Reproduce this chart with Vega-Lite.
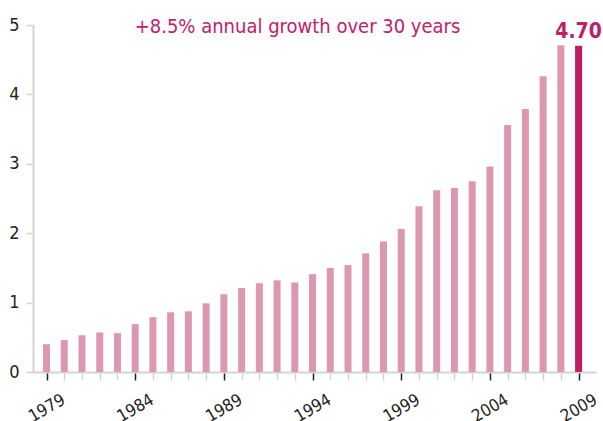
{
  "$schema": "https://vega.github.io/schema/vega-lite/v6.json",
  "width": 563,
  "height": 347,
  "autosize": {"type": "none"},
  "padding": {"left": 33, "top": 25, "right": 7, "bottom": 49},
  "background": "white",
  "config": {"view": {"stroke": null}, "font": "DejaVu Sans Condensed, Liberation Sans"},
  "title": {
    "text": "+8.5% annual growth over 30 years",
    "anchor": "middle",
    "dx": -17,
    "dy": 29,
    "offset": -8,
    "baseline": "alphabetic",
    "fontSize": 20,
    "fontWeight": "normal",
    "color": "#c2206a",
    "font": "DejaVu Sans Condensed, Liberation Sans"
  },
  "data": {
    "values": [
      {"year": 1979, "value": 0.40},
      {"year": 1980, "value": 0.46},
      {"year": 1981, "value": 0.53},
      {"year": 1982, "value": 0.57},
      {"year": 1983, "value": 0.56},
      {"year": 1984, "value": 0.69},
      {"year": 1985, "value": 0.79},
      {"year": 1986, "value": 0.86},
      {"year": 1987, "value": 0.875},
      {"year": 1988, "value": 0.99},
      {"year": 1989, "value": 1.12},
      {"year": 1990, "value": 1.21},
      {"year": 1991, "value": 1.28},
      {"year": 1992, "value": 1.32},
      {"year": 1993, "value": 1.29},
      {"year": 1994, "value": 1.41},
      {"year": 1995, "value": 1.50},
      {"year": 1996, "value": 1.54},
      {"year": 1997, "value": 1.71},
      {"year": 1998, "value": 1.88},
      {"year": 1999, "value": 2.06},
      {"year": 2000, "value": 2.39},
      {"year": 2001, "value": 2.62},
      {"year": 2002, "value": 2.65},
      {"year": 2003, "value": 2.75},
      {"year": 2004, "value": 2.96},
      {"year": 2005, "value": 3.56},
      {"year": 2006, "value": 3.79},
      {"year": 2007, "value": 4.26},
      {"year": 2008, "value": 4.71},
      {"year": 2009, "value": 4.70}
    ]
  },
  "layer": [
    {
      "mark": {"type": "bar", "size": 7},
      "encoding": {
        "x": {
          "field": "year",
          "type": "quantitative",
          "scale": {"domain": [1978.52, 2009.7], "nice": false, "zero": false},
          "axis": {
            "title": null,
            "values": [1979,1980,1981,1982,1983,1984,1985,1986,1987,1988,1989,1990,1991,1992,1993,1994,1995,1996,1997,1998,1999,2000,2001,2002,2003,2004,2005,2006,2007,2008,2009],
            "tickCount": 100,
            "labelExpr": "datum.value % 5 == 4 ? datum.label : ''",
            "format": "d",
            "grid": false,
            "domainColor": "#d4d4d4",
            "domainWidth": 2,
            "tickSize": 8,
            "tickWidth": 1.5,
            "tickColor": {"condition": {"test": "datum.value % 5 == 4", "value": "#222222"}, "value": "#d4d4d4"},
            "labelAngle": -30,
            "labelAlign": "center",
            "labelBaseline": "middle",
            "labelFontSize": 17,
            "labelColor": "#222222",
            "labelPadding": 28,
            "labelOverlap": false,
            "labelFlush": false,
            "labelBound": false
          }
        },
        "y": {
          "field": "value",
          "type": "quantitative",
          "scale": {"domain": [0, 5], "nice": false},
          "axis": {
            "title": null,
            "values": [0, 1, 2, 3, 4, 5],
            "format": "d",
            "grid": false,
            "domainColor": "#d4d4d4",
            "domainWidth": 2,
            "tickColor": "#d4d4d4",
            "tickSize": 7,
            "tickWidth": 1.5,
            "labelFontSize": 18,
            "labelColor": "#222222",
            "labelPadding": 7
          }
        },
        "color": {
          "condition": {"test": "datum.year == 2009", "value": "#c01f66"},
          "value": "#dd98b0"
        }
      }
    },
    {
      "transform": [{"filter": "datum.year == 2009"}],
      "mark": {"type": "text", "baseline": "alphabetic", "dy": -8, "fontSize": 21, "fontWeight": "bold", "color": "#c01f66", "font": "DejaVu Sans Condensed, Liberation Sans"},
      "encoding": {
        "x": {"field": "year", "type": "quantitative"},
        "y": {"field": "value", "type": "quantitative"},
        "text": {"field": "value", "type": "quantitative", "format": ".2f"}
      }
    }
  ]
}
